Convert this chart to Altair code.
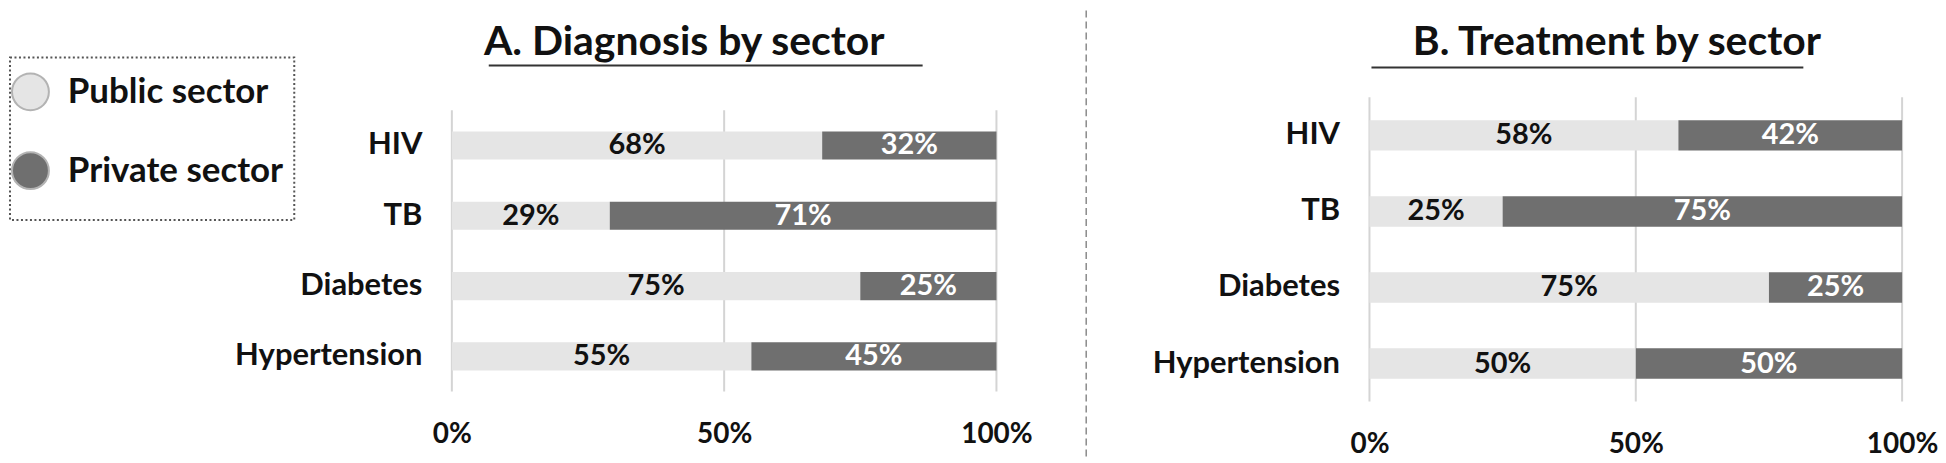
import altair as alt
import pandas as pd

# ---------------- data ----------------
conditions = ["HIV", "TB", "Diabetes", "Hypertension"]
sectors = ["Public sector", "Private sector"]
diag_public = [0.68, 0.29, 0.75, 0.55]
diag_private = [0.32, 0.71, 0.25, 0.45]
treat_public = [0.58, 0.25, 0.75, 0.50]
treat_private = [0.42, 0.75, 0.25, 0.50]
x_ticks = [0, 0.5, 1]
title_a = "A. Diagnosis by sector"
title_b = "B. Treatment by sector"


def long_table(pub, priv):
    rows = []
    for c, a, b in zip(conditions, pub, priv):
        rows.append({"condition": c, "sector": sectors[0], "value": a})
        rows.append({"condition": c, "sector": sectors[1], "value": b})
    return pd.DataFrame(rows)


one = pd.DataFrame({"d": [0]})
ticks_df = pd.DataFrame({"t": x_ticks})

FONT = "Lato"
INK = "#111111"
LIGHT = "#e5e5e5"
DARK = "#6f6f6f"
GRID = "#d4d4d4"

color = alt.Color(
    "sector:N",
    scale=alt.Scale(domain=sectors, range=[LIGHT, DARK]),
    legend=alt.Legend(
        orient="none", legendX=-442, legendY=-25, title=None,
        symbolType="circle", symbolSize=1369,
        symbolStrokeColor="#b3b3b3", symbolStrokeWidth=2,
        labelFont=FONT, labelFontSize=35, labelFontWeight="bold",
        labelColor=INK, labelOffset=18, rowPadding=34, padding=0,
        labelLimit=400,
    ),
)


def panel(df, title, tx, width, height, band_range, fl, fr, extras):
    y_axis = alt.Axis(title=None, ticks=False, domain=False, grid=False,
                      labelFont=FONT, labelFontSize=31, labelFontWeight="bold",
                      labelColor=INK, labelPadding=30, labelLimit=400)
    x_axis = alt.Axis(title=None, values=x_ticks, format="%", ticks=False,
                      domain=False, grid=False,
                      labelFont=FONT, labelFontSize=28, labelFontWeight="bold",
                      labelColor=INK, labelPadding=29, labelFlush=False)
    y_scale = alt.Scale(paddingInner=0.6, paddingOuter=0.3, range=band_range)
    x_scale = alt.Scale(domain=[0, 1], nice=False)

    grid = alt.Chart(ticks_df).mark_rule(color=GRID, strokeWidth=2).encode(
        x=alt.X("t:Q", scale=x_scale, axis=x_axis),
        y=alt.value(band_range[0]), y2=alt.value(band_range[1]),
    )

    base = (
        alt.Chart(df)
        .transform_calculate(k="datum.sector == 'Public sector' ? 0 : 1")
        .transform_stack(stack="value", groupby=["condition"], as_=["v0", "v1"],
                         sort=[alt.SortField("k")])
        .transform_calculate(mid="(datum.v0 + datum.v1) / 2")
    )
    y = alt.Y("condition:N", sort=conditions, scale=y_scale, axis=y_axis)
    bars = base.mark_bar().encode(
        y=y,
        x=alt.X("v0:Q", scale=x_scale, axis=x_axis),
        x2="v1:Q",
        color=color,
    )

    def labels(sector, col):
        return base.transform_filter(alt.datum.sector == sector).mark_text(
            font=FONT, fontSize=29, fontWeight="bold", color=col, baseline="middle"
        ).encode(
            y=y,
            x=alt.X("mid:Q", scale=x_scale, axis=x_axis),
            text=alt.Text("value:Q", format=".0%"),
        )

    frame = alt.Chart(one).mark_rule(opacity=0).encode(
        x=alt.value(fl), x2=alt.value(fr), y=alt.value(-89)
    )
    heading = alt.Chart(one).mark_text(
        text=title, font=FONT, fontSize=41, fontWeight="bold", color=INK,
        align="center", baseline="alphabetic",
    ).encode(x=alt.value(tx), y=alt.value(-42))
    return alt.layer(
        grid, bars, labels(sectors[0], INK), labels(sectors[1], "#ffffff"),
        frame, heading, *extras
    ).properties(width=width, height=height)


underline_a = alt.Chart(one).mark_rule(color="#333333", strokeWidth=2).encode(
    x=alt.value(37), x2=alt.value(472), y=alt.value(-32)
)
legend_box = alt.Chart(one).mark_rect(
    fillOpacity=0, stroke="#555555", strokeWidth=2, strokeDash=[2, 2.5]
).encode(x=alt.value(-443), x2=alt.value(-158), y=alt.value(-40), y2=alt.value(123))

underline_b = alt.Chart(one).mark_rule(color="#333333", strokeWidth=2).encode(
    x=alt.value(2), x2=alt.value(435), y=alt.value(-30)
)
separator = alt.Chart(one).mark_rule(color="#8a8a8a", strokeWidth=1.5, strokeDash=[7, 4]).encode(
    x=alt.value(-284), y=alt.value(-87), y2=alt.value(363)
)

panel_a = panel(long_table(diag_public, diag_private), title_a, 233, 546, 295, [13, 295],
                -445, 634, [underline_a, legend_box])
panel_b = panel(long_table(treat_public, treat_private), title_b, 248, 534, 305, [0, 305],
                -286, 562, [underline_b, separator])

chart = (
    alt.concat(panel_a, panel_b, columns=2, spacing=0)
    .properties(padding=0)
    .configure_view(strokeWidth=0)
)

chart.save("out.html", embed_options={"renderer": "svg", "actions": False})
